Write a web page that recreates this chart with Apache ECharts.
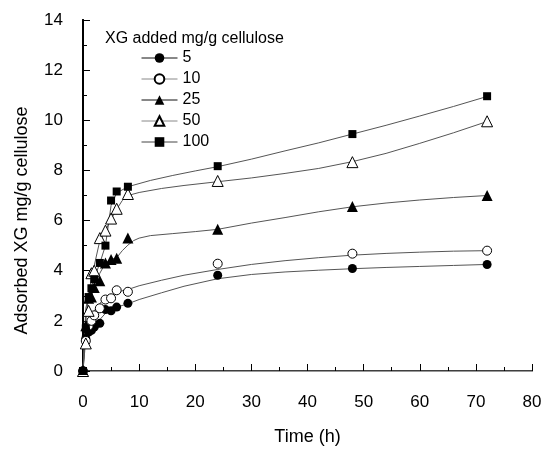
<!DOCTYPE html>
<html>
<head>
<meta charset="utf-8">
<script src="https://cdn.jsdelivr.net/npm/echarts@6/dist/echarts.min.js"></script>
<style>
html,body{margin:0;padding:0;background:#fff;}
#chart{width:545px;height:451px;}
</style>
</head>
<body>
<div id="chart"></div>
<script>
// ---- data ----
const times = [0, 0.5, 1, 1.5, 2, 3, 4, 5, 6, 8, 24, 48, 72];
const seriesNames = ['5', '10', '25', '50', '100'];
const xg5   = [0, 1.30, 1.55, 1.62, 1.75, 1.90, 2.45, 2.40, 2.55, 2.70, 3.82, 4.09, 4.25];
const xg10  = [0, 1.20, 1.80, 2.00, 2.22, 2.50, 2.85, 2.90, 3.22, 3.16, 4.28, 4.68, 4.80];
const xg25  = [0, 1.80, 2.90, 2.95, 3.33, 3.60, 4.31, 4.45, 4.50, 5.30, 5.65, 6.56, 7.00];
const xg50  = [0, 1.10, 2.40, 3.90, 4.00, 5.30, 5.60, 6.08, 6.47, 7.06, 7.58, 8.33, 9.96];
const xg100 = [0, 1.70, 2.95, 3.30, 3.66, 4.31, 5.00, 6.80, 7.16, 7.35, 8.17, 9.45, 10.96];

// fitted curves
const fitT5   = [0, 0.5, 1, 2, 3, 4, 6, 8, 10, 14, 18, 24, 30, 36, 42, 48, 54, 60, 66, 72];
const fit5    = [0, 1.30, 1.50, 1.80, 2.05, 2.30, 2.55, 2.68, 2.85, 3.12, 3.38, 3.68, 3.85, 3.95, 4.02, 4.08, 4.13, 4.17, 4.21, 4.25];
const fitT10  = [0, 0.5, 1, 2, 3, 4, 6, 8, 10, 14, 18, 24, 30, 36, 42, 48, 54, 60, 66, 72];
const fit10   = [0, 1.60, 2.00, 2.40, 2.70, 2.90, 3.15, 3.25, 3.40, 3.62, 3.82, 4.05, 4.25, 4.40, 4.52, 4.62, 4.69, 4.74, 4.78, 4.80];
const fitT25  = [0, 0.5, 1, 2, 3, 4, 5, 6, 7, 8, 9, 10, 12, 16, 20, 24, 30, 36, 42, 48, 54, 60, 66, 72];
const fit25   = [0, 2.20, 2.90, 3.40, 3.90, 4.30, 4.45, 4.52, 4.80, 5.02, 5.20, 5.30, 5.40, 5.48, 5.56, 5.65, 5.90, 6.12, 6.35, 6.55, 6.70, 6.82, 6.92, 7.00];
const fitT50  = [0, 0.5, 1, 2, 3, 4, 5, 6, 7, 8, 10, 14, 18, 24, 30, 36, 42, 48, 54, 60, 66, 72];
const fit50   = [0, 2.00, 3.10, 4.20, 5.20, 5.60, 6.05, 6.45, 6.80, 7.00, 7.12, 7.28, 7.40, 7.55, 7.70, 7.88, 8.08, 8.35, 8.68, 9.08, 9.50, 9.95];
const fitT100 = [0, 0.5, 1, 2, 3, 4, 5, 6, 8, 12, 16, 20, 24, 30, 36, 42, 48, 54, 60, 66, 72];
const fit100  = [0, 2.50, 3.00, 3.70, 4.30, 5.00, 6.60, 7.10, 7.35, 7.60, 7.80, 7.98, 8.15, 8.45, 8.78, 9.10, 9.45, 9.80, 10.17, 10.55, 10.95];

const xTicks = [0, 10, 20, 30, 40, 50, 60, 70, 80];
const yTicks = [0, 2, 4, 6, 8, 10, 12, 14];

const values = [xg5, xg10, xg25, xg50, xg100];
const fitTs = [fitT5, fitT10, fitT25, fitT50, fitT100];
const fits = [fit5, fit10, fit25, fit50, fit100];

const FONT = 'Liberation Sans, Arial, Helvetica, sans-serif';
const symbols = ['circle', 'circle', 'triangle', 'triangle', 'rect'];
const sizes = [9, 9, 11, 11, 8];
const filled = [true, false, true, false, true];
const legendLine = ['#111', '#888', '#111', '#888', '#444'];

const pairs = (xs, ys) => xs.map((x, i) => [x, ys[i]]);

const series = [];
seriesNames.forEach((n, k) => {
  series.push({
    name: 'fit' + n,
    type: 'line',
    data: pairs(fitTs[k], fits[k]),
    smooth: false,
    showSymbol: false,
    symbol: 'none',
    silent: true,
    z: 2,
    lineStyle: { color: '#555', width: 1 }
  });
});
seriesNames.forEach((n, k) => {
  series.push({
    name: n,
    type: 'line',
    data: pairs(times, values[k]),
    symbol: symbols[k],
    symbolSize: sizes[k],
    z: 5,
    lineStyle: { opacity: 0, width: 0 },
    itemStyle: filled[k]
      ? { color: '#000', borderColor: '#000', borderWidth: 0 }
      : { color: '#fff', borderColor: '#000', borderWidth: 1 }
  });
});

const chart = echarts.init(document.getElementById('chart'), null, { renderer: 'canvas' });
chart.setOption({
  animation: false,
  backgroundColor: '#fff',
  textStyle: { fontFamily: FONT },
  title: {
    text: 'XG added mg/g cellulose',
    left: 100, top: 26,
    textStyle: { fontFamily: FONT, fontSize: 16, fontWeight: 'normal', color: '#000' }
  },
  legend: {
    orient: 'vertical',
    left: 136, top: 45,
    itemWidth: 36, itemHeight: 12, itemGap: 5,
    textStyle: { fontFamily: FONT, fontSize: 16, color: '#000' },
    data: seriesNames.map((n, k) => ({ name: n, lineStyle: { color: legendLine[k], width: 1, opacity: 1 } }))
  },
  grid: { left: 83, right: 13, top: 20, bottom: 74, containLabel: false },
  xAxis: [{
    type: 'value', min: xTicks[0], max: xTicks[xTicks.length - 1], interval: 10,
    name: 'Time (h)', nameLocation: 'middle', nameGap: 57,
    nameTextStyle: { fontFamily: FONT, fontSize: 18, color: '#000' },
    axisLine: { show: true, onZero: false, lineStyle: { color: '#000', width: 1.5 } },
    axisTick: { show: true, inside: true, length: 7, lineStyle: { color: '#000', width: 1 } },
    minorTick: { show: true, splitNumber: 2, length: 4, lineStyle: { color: '#000', width: 1 } },
    axisLabel: { fontFamily: FONT, fontSize: 17, color: '#000', margin: 23 },
    splitLine: { show: false }
  }, {
    type: 'value', position: 'top', min: 0, max: 80,
    axisLine: { show: true, lineStyle: { color: '#999', width: 1 } },
    axisTick: { show: false }, axisLabel: { show: false }, splitLine: { show: false }
  }],
  yAxis: [{
    type: 'value', min: yTicks[0], max: yTicks[yTicks.length - 1], interval: 2,
    name: 'Adsorbed XG mg/g cellulose', nameLocation: 'middle', nameGap: 52, nameRotate: 90,
    nameTextStyle: { fontFamily: FONT, fontSize: 18, color: '#000', padding: [0, 50, 0, 0] },
    axisLine: { show: true, onZero: false, lineStyle: { color: '#000', width: 2 } },
    axisTick: { show: true, inside: true, length: 7, lineStyle: { color: '#000', width: 1 } },
    minorTick: { show: true, splitNumber: 2, length: 4, lineStyle: { color: '#000', width: 1 } },
    axisLabel: { fontFamily: FONT, fontSize: 17, color: '#000', margin: 20 },
    splitLine: { show: false }
  }, {
    type: 'value', position: 'right', min: 0, max: 14,
    axisLine: { show: true, lineStyle: { color: '#000', width: 2 } },
    axisTick: { show: false }, axisLabel: { show: false }, splitLine: { show: false }
  }],
  series: series
});
</script>
</body>
</html>
